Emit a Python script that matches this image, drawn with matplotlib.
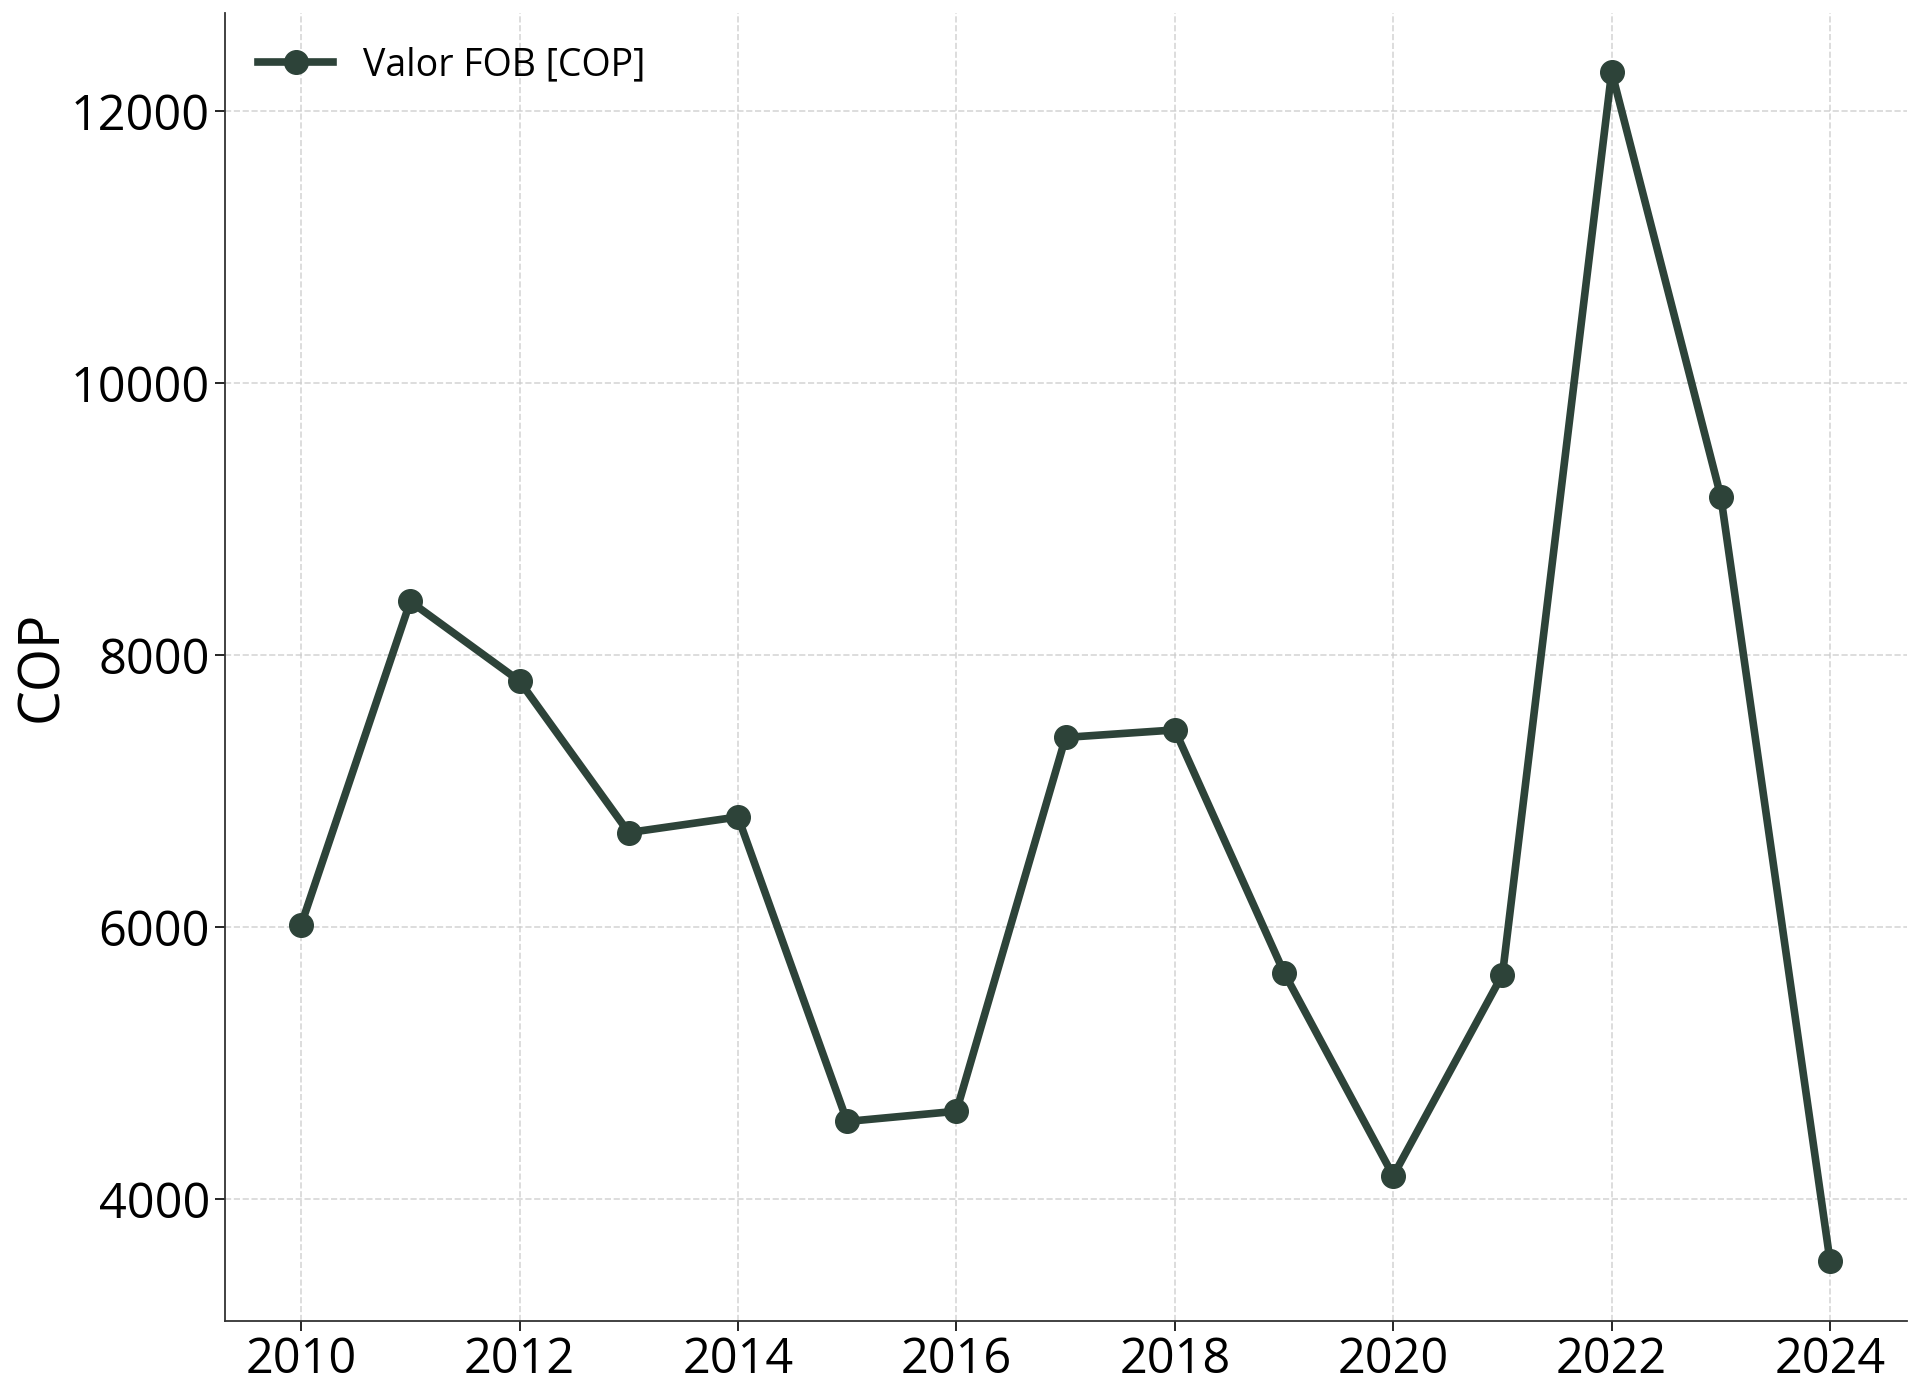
import matplotlib
matplotlib.use("Agg")
import matplotlib.pyplot as plt

years = [2010, 2011, 2012, 2013, 2014, 2015, 2016, 2017, 2018, 2019, 2020, 2021, 2022, 2023, 2024]
valor_fob = [6015, 8395, 7810, 6695, 6810, 4570, 4645, 7395, 7450, 5665, 4170, 5650, 12290, 9165, 3540]

LINE_COLOR = "#2d4339"

plt.rcParams['font.family'] = ['Open Sans', 'DejaVu Sans']

fig = plt.figure(figsize=(19.2, 13.89), dpi=100)
ax = fig.add_axes([0.117, 0.049, 0.876, 0.942])

ax.plot(years, valor_fob, color=LINE_COLOR, linewidth=5.5, marker='o',
        markersize=17, label='Valor FOB [COP]')

ax.set_ylabel('COP', fontsize=40, labelpad=0)
ax.set_xticks(range(2010, 2025, 2))
ax.set_yticks([4000, 6000, 8000, 10000, 12000])
ax.tick_params(axis='both', labelsize=35, length=7, width=1.2)

ax.grid(True, linestyle='--', color='#cccccc', linewidth=1.2, alpha=0.8)
ax.set_axisbelow(True)

for side in ['top', 'right']:
    ax.spines[side].set_visible(False)
for side in ['left', 'bottom']:
    ax.spines[side].set_linewidth(1.3)
    ax.spines[side].set_color('#333333')

ax.legend(loc='upper left', frameon=False, fontsize=27, handlelength=2.0)

fig.savefig('out.png', dpi=100)
